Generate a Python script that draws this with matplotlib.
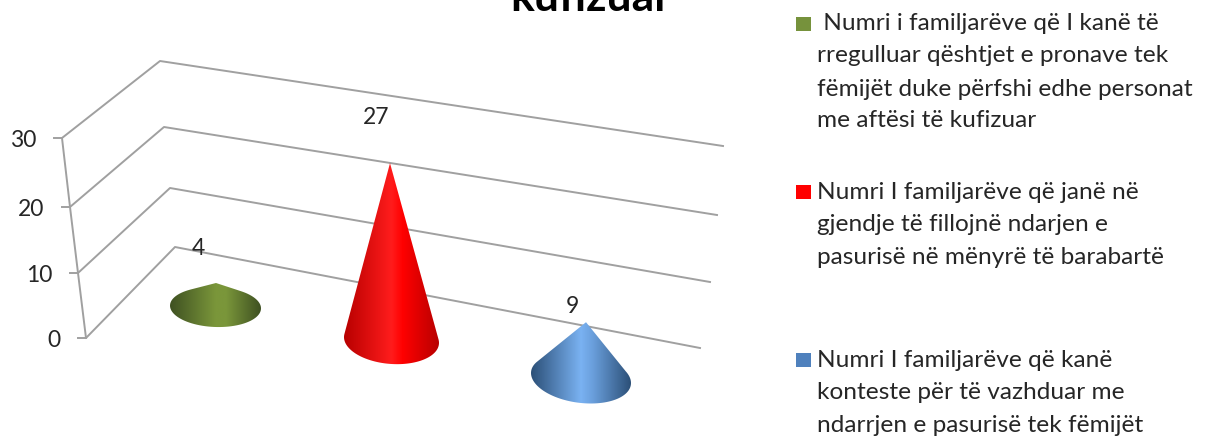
"""
3D-looking cone chart with a legend on the right
"""
import numpy as np
import matplotlib
matplotlib.use("Agg")
import matplotlib.pyplot as plt
from matplotlib.colors import LinearSegmentedColormap
from matplotlib.patches import Polygon

title_tail = "kufizuar"
values = [4, 27, 9]
y_ticks = [0, 10, 20, 30]
colors = ["#76923c", "#ff0000", "#4f81bd"]
legend_labels = [
    " Numri i familjarëve që I kanë të\nrregulluar qështjet e pronave tek\n"
    "fëmijët duke përfshi edhe personat\nme aftësi të kufizuar",
    "Numri I familjarëve që janë në\ngjendje të fillojnë ndarjen e\n"
    "pasurisë në mënyrë të barabartë",
    "Numri I familjarëve që kanë\nkonteste për të vazhduar me\n"
    "ndarrjen e pasurisë tek fëmijët",
]

# layout in image pixels
FRONT = np.array([(86, 338), (78, 273), (70, 207), (62, 138)])
BACK = np.array([(175, 247), (170, 188), (164, 127), (160, 61)])
RIGHT = np.array([(700, 348), (710, 282), (717, 215), (723, 146)])
CONE_X = [215.5, 391.5, 581]
APEX_X = [216, 390, 586]
CONE_Y = [307, 340, 378]
CONE_RX = [45.5, 47.5, 50]
CONE_RY = [20, 24, 25]
CONE_TILT = [0.03, 0.06, 0.1]
CONE_UNIT = [6.0, 6.55, 6.2]
SHADES = [
    ("#3f5122", "#7a963a", "#7a963a", "#3f5122"),
    ("#b80000", "#ff1c1c", "#ff0000", "#b80000"),
    ("#2c5078", "#7ab2f2", "#6a9fdc", "#2c5078"),
]
VALUE_LABEL_XY = [(198, 248), (376, 117), (572, 306)]
LEGEND_Y = [[23, 55, 88, 120], [192, 224, 257], [360, 392, 425]]
LEGEND_BOX_Y = [24, 192, 360]

plt.rcParams["font.family"] = ["Lato", "DejaVu Sans"]
GRID = "#a0a0a0"
TEXT = "#262626"


def draw_cone(ax, i, height):
    """ Draw the shaded cone number 'i', standing on a slightly tilted ellipse """
    x, y, rx, ry = CONE_X[i], CONE_Y[i], CONE_RX[i], CONE_RY[i]
    ratio = min(ry / height, 0.98)
    start = np.arcsin(ratio)
    theta = np.linspace(np.pi - start, 2 * np.pi + start, 80)
    dx = rx * np.cos(theta)
    outline = np.column_stack([x + dx, y - ry * np.sin(theta) + CONE_TILT[i] * dx])
    outline = np.vstack([outline, [APEX_X[i], y - height]])
    patch = Polygon(outline, closed=True, transform=ax.transData, fc="none", ec="none")
    ax.add_patch(patch)
    shades = SHADES[i]
    cmap = LinearSegmentedColormap.from_list(
        "cone", [(0, shades[0]), (0.5, shades[1]), (0.62, shades[2]), (1, shades[3])])
    grad = np.linspace(0, 1, 200)[None, :]
    img = ax.imshow(grad, cmap=cmap, aspect="auto", zorder=3,
                    extent=(x - rx, x + rx, y + ry + 6, y - height))
    img.set_clip_path(patch)


fig = plt.figure(figsize=(12.05, 4.39), dpi=100)
ax = fig.add_axes([0, 0, 1, 1])

# walls and gridlines
for tick, front, back, right in zip(y_ticks, FRONT, BACK, RIGHT):
    pts = np.array([(front[0] - 8, front[1]), front, back, right])
    ax.plot(pts[:, 0], pts[:, 1], color=GRID, lw=1.4, zorder=1)
    ax.text(front[0] - 26, front[1] + 2, str(tick), ha="right", va="center",
            fontsize=16.5, color=TEXT)
ax.plot(FRONT[:, 0], FRONT[:, 1], color=GRID, lw=1.4, zorder=1)

# cones and value labels
for i, value in enumerate(values):
    draw_cone(ax, i, value * CONE_UNIT[i])
    ax.text(*VALUE_LABEL_XY[i], str(value), ha="center", va="center",
            fontsize=16.5, color=TEXT, zorder=4)

ax.text(591, 10, title_tail, ha="center", va="baseline", fontsize=32,
        fontweight="bold", color="black")

# legend
for color, label, ys, box_y in zip(colors, legend_labels, LEGEND_Y, LEGEND_BOX_Y):
    ax.add_patch(plt.Rectangle((796, box_y - 7), 15, 14, fc=color, ec="none"))
    for line, y in zip(label.split("\n"), ys):
        ax.text(817, y, line, ha="left", va="center", fontsize=17.6, color=TEXT)

ax.set_xlim(0, 1205)
ax.set_ylim(438, -1)
ax.axis("off")
plt.savefig("out.png", dpi=100)
